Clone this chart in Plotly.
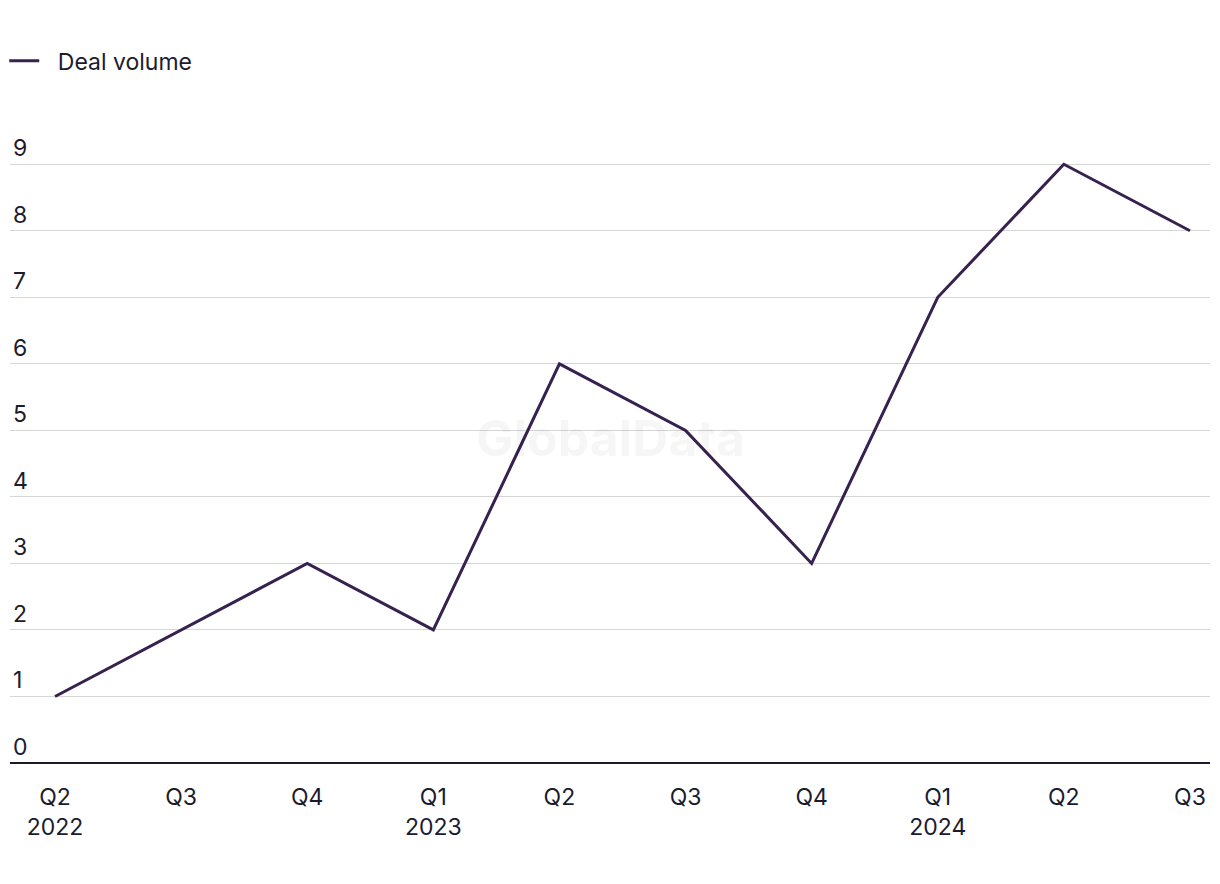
import plotly.graph_objects as go

quarters = ["Q2<br>2022", "Q3", "Q4", "Q1<br>2023", "Q2", "Q3", "Q4", "Q1<br>2024", "Q2", "Q3"]
deal_volume = [1, 2, 3, 2, 6, 5, 3, 7, 9, 8]
y_ticks = [0, 1, 2, 3, 4, 5, 6, 7, 8, 9]

x_idx = list(range(len(quarters)))

FONT = "Inter, Liberation Sans, Arial, sans-serif"
TEXT = "#1c1b2e"
LINE = "#37214f"

fig = go.Figure()
fig.add_trace(go.Scatter(
    x=x_idx, y=deal_volume, mode="lines", name="\u2002\u200aDeal volume",
    line=dict(color=LINE, width=3),
))

fig.update_layout(
    width=1212, height=876,
    margin=dict(l=2, r=10, t=123, b=121, autoexpand=False),
    paper_bgcolor="white", plot_bgcolor="white",
    font=dict(family=FONT, size=23, color=TEXT),
    showlegend=True,
    legend=dict(orientation="h", x=-0.0048, xref="paper", y=0.9152, xanchor="left",
                yanchor="bottom", yref="container", font=dict(size=23, color=TEXT),
                itemwidth=30),
    xaxis=dict(
        tickmode="array", tickvals=x_idx, ticktext=quarters,
        range=[-0.357, 9.159], showgrid=False, zeroline=False, automargin=False,
        showline=False, ticks="", tickfont=dict(size=23, color=TEXT),
        ticklabelstandoff=18,
    ),
    yaxis=dict(
        range=[0, 9.5], tickmode="array", tickvals=y_ticks, automargin=False,
        ticktext=[str(v) for v in y_ticks],
        showgrid=True, gridcolor="#d6d6d6", gridwidth=1,
        zeroline=True, zerolinecolor="#1c1b2e", zerolinewidth=2,
        ticklabelposition="inside top", tickfont=dict(size=23, color=TEXT),
        showline=False, ticks="",
    ),
    annotations=[dict(
        text="<b>GlobalData</b>", x=0.5, y=0.515, xref="paper", yref="paper",
        showarrow=False, font=dict(size=50, color="rgba(0,0,0,0.035)", family=FONT),
    )],
)

fig.write_html("out.html")
